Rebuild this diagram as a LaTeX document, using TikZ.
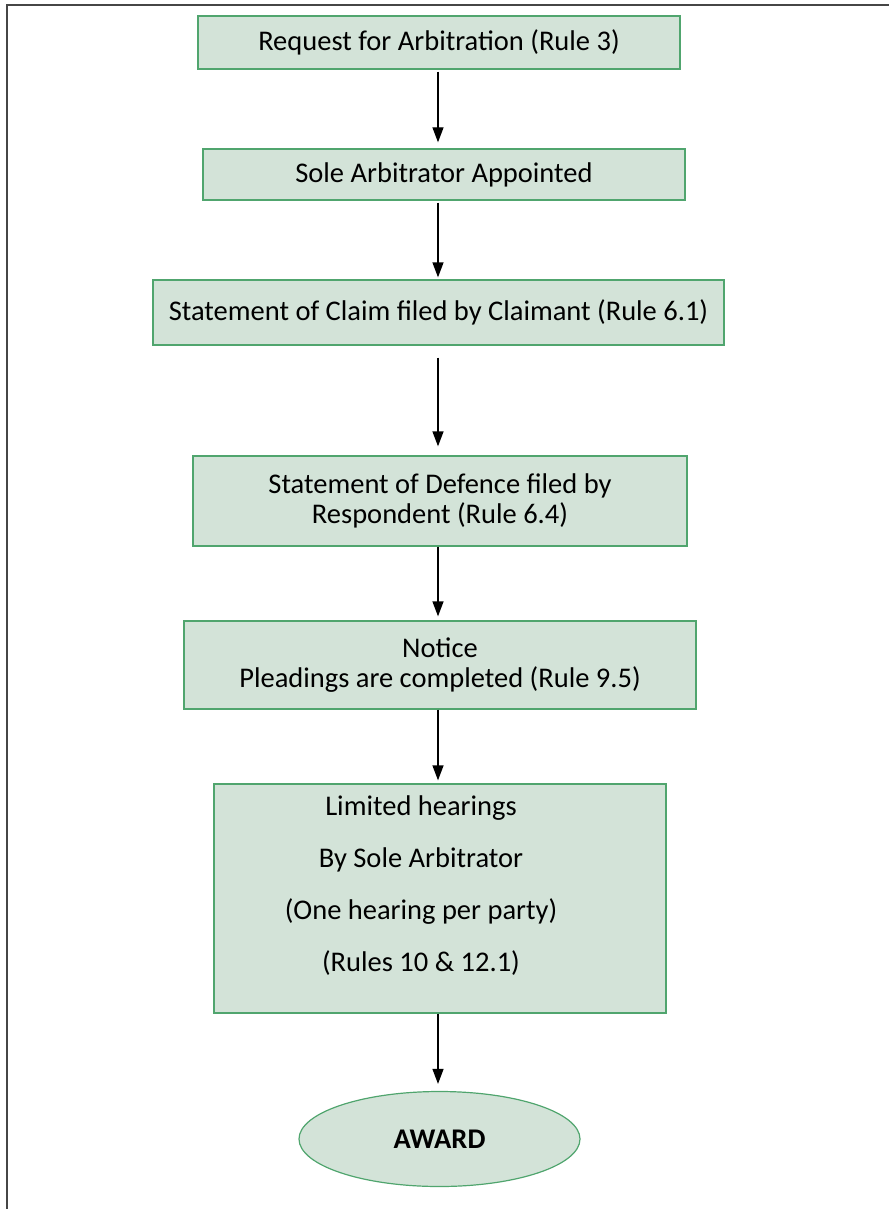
\documentclass[tikz,border=0pt]{standalone}
\usepackage{fontspec}
\setmainfont{Carlito}
\usetikzlibrary{arrows.meta, shapes.geometric}

\definecolor{boxfill}{RGB}{211,227,216}
\definecolor{boxline}{RGB}{80,165,110}
\definecolor{framegray}{RGB}{70,70,70}

\begin{document}
\begin{tikzpicture}[x=1pt, y=-1pt,
    stage box/.style={draw=boxline, fill=boxfill, line width=1.3pt, inner sep=0pt,
        font=\fontsize{28.5}{30}\selectfont, align=center},
    end oval/.style={ellipse, draw=boxline, fill=boxfill, line width=1.2pt, inner sep=0pt,
        font=\fontsize{28.5}{30}\selectfont\bfseries},
    flow/.style={line width=1.3pt, -{Triangle[width=11pt, length=15pt]}}]
    \useasboundingbox (0,0) rectangle (889,1209);
    \draw[framegray, line width=1.5pt] (7,1209) -- (7,5) -- (889,5);

    \coordinate (axis) at (438,0);

    \node[stage box, minimum width=482, minimum height=53] (request) at (439,42.5) {Request for Arbitration (Rule 3)};
    \node[stage box, minimum width=482, minimum height=51] (sole) at (444,174.5) {Sole Arbitrator Appointed};
    \node[stage box, minimum width=571, minimum height=65] (claim) at (438.5,312.5) {Statement of Claim filed by Claimant (Rule 6.1)};
    \node[stage box, minimum width=494, minimum height=90] (defence) at (440,501) {Statement of Defence filed by\\Respondent (Rule 6.4)};
    \node[stage box, minimum width=512, minimum height=88] (notice) at (440,665) {Notice\\Pleadings are completed (Rule 9.5)};
    \node[stage box, minimum width=452, minimum height=229] (hearings) at (440,898.5) {};
    \node[font=\fontsize{28.5}{52}\selectfont, align=center] (hearingstext) at (421,886) {Limited hearings\\By Sole Arbitrator\\(One hearing per party)\\(Rules 10 \& 12.1)};
    \node[end oval, minimum width=281, minimum height=95] (award) at (439.5,1139) {AWARD};

    \draw[flow, shorten <=2pt, shorten >=6pt] (request.south -| axis) -- (sole.north -| axis);
    \draw[flow, shorten <=2pt, shorten >=2pt] (sole.south -| axis) -- (claim.north -| axis);
    \draw[flow, shorten <=12pt, shorten >=9pt] (claim.south -| axis) -- (defence.north -| axis);
    \draw[flow, shorten >=4pt] (defence.south -| axis) -- (notice.north -| axis);
    \draw[flow, shorten >=3pt] (notice.south -| axis) -- (hearings.north -| axis);
    \draw[flow, shorten >=7pt] (hearings.south -| axis) -- (award.north -| axis);
\end{tikzpicture}
\end{document}
